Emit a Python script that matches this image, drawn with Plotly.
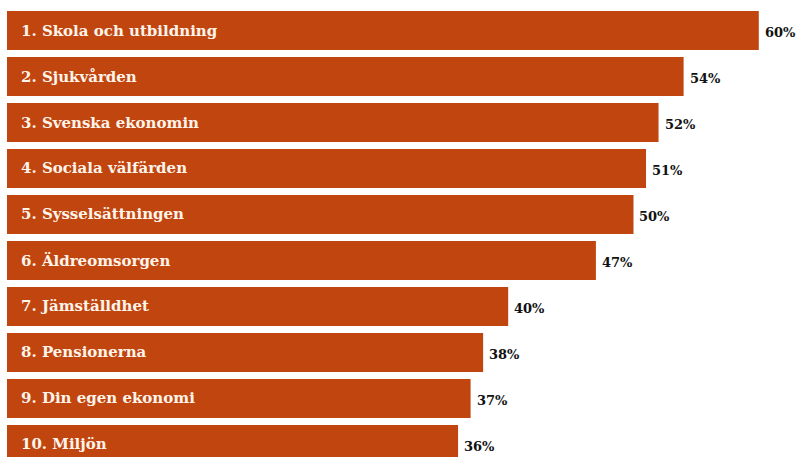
import plotly.graph_objects as go

categories = ["1. Skola och utbildning", "2. Sjukvården", "3. Svenska ekonomin",
              "4. Sociala välfärden", "5. Sysselsättningen", "6. Äldreomsorgen",
              "7. Jämställdhet", "8. Pensionerna", "9. Din egen ekonomi", "10. Miljön"]
values = [60, 54, 52, 51, 50, 47, 40, 38, 37, 36]
value_labels = [f"{v}%" for v in values]

BAR = "#C0450F"
FONT = "DejaVu Serif"

idx = list(range(len(categories)))

fig = go.Figure(go.Bar(
    x=values, y=idx, orientation="h",
    marker=dict(color=BAR, line=dict(width=0)),
    width=0.848,
    hoverinfo="skip",
))

for i, c, v, t in zip(idx, categories, values, value_labels):
    fig.add_annotation(x=0, y=i, text=f"<b>{c}</b>", showarrow=False,
                       xanchor="left", xshift=12, yshift=0,
                       font=dict(family=FONT, size=15, color="#FFF4EA"))
    fig.add_annotation(x=v, y=i, text=f"<b>{t}</b>", showarrow=False,
                       xanchor="left", xshift=4, yshift=-2,
                       font=dict(family=FONT, size=13, color="#111111"))

fig.update_layout(
    width=796, height=457,
    margin=dict(l=7, r=0, t=0, b=0),
    paper_bgcolor="white", plot_bgcolor="white",
    showlegend=False,
    xaxis=dict(range=[0, 62.97], visible=False),
    yaxis=dict(range=[9.272, -0.663], visible=False),
)
fig.write_html("out.html")
